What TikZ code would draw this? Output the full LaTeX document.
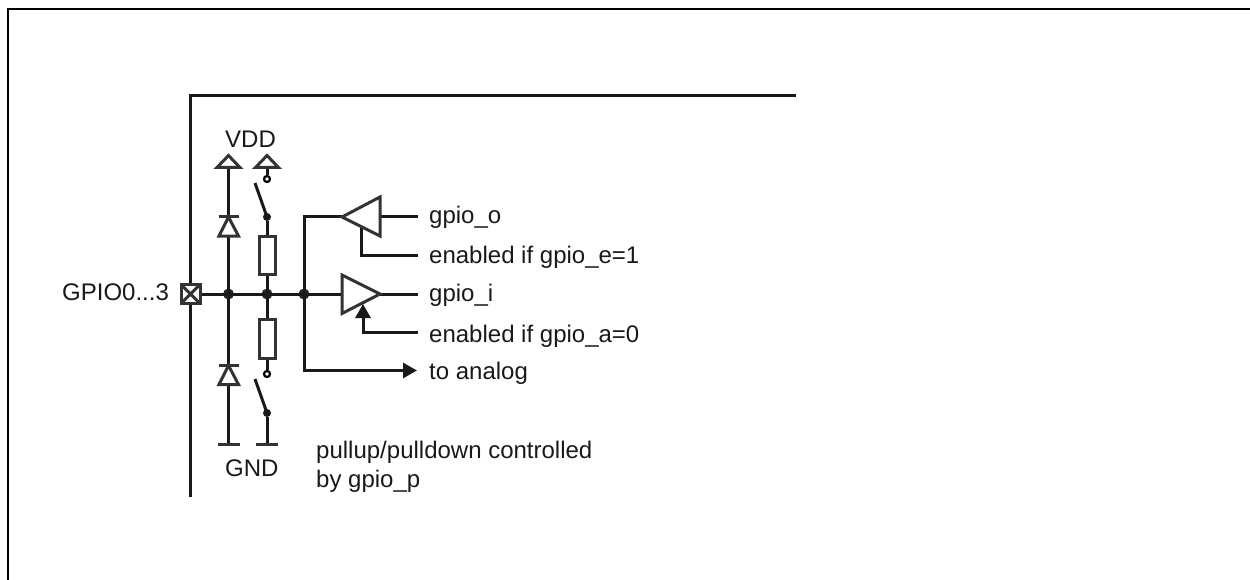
\documentclass[tikz,border=0pt]{standalone}
\usepackage{fontspec}
\setmainfont{Liberation Sans}
\usetikzlibrary{arrows.meta}
\tikzset{
  x=1pt,y=-1pt,
  wire/.style={line width=3pt,black!90,line cap=butt,line join=miter},
  sym/.style={line width=3pt,black!80,fill=white,line join=miter},
  dot/.style={circle,fill=black!85,inner sep=0pt,minimum size=11pt},
  sdot/.style={circle,fill=black!90,inner sep=0pt,minimum size=8pt},
  odot/.style={circle,draw=black,line width=2.2pt,fill=white,inner sep=0pt,minimum size=6pt},
  lbl/.style={font=\fontsize{24}{28}\selectfont,inner sep=0pt,anchor=base west,text=black!90},
  frameline/.style={line width=2.5pt,black},
  tip/.style={-{Triangle[length=14pt,width=15pt]}},
}
\begin{document}
\begin{tikzpicture}
\useasboundingbox (0,0) rectangle (1250,580);
% outer frame
\draw[frameline] (8,580) -- (8,9) -- (1250,9);
% chip border
\coordinate (ca) at (190.5,497);
\coordinate (cb) at (190.5,96);
\coordinate (cc) at (796,96);
\draw[wire] (ca) -- (cb) -- (cc);
% nodes on bus
\coordinate (pad) at (190.5,294);
\node[dot] (j1) at (228.5,294) {};
\node[dot] (j2) at (267,294) {};
\node[dot] (j3) at (304,294) {};
\coordinate (busend) at (342,294);
\draw[wire] (pad) -- (busend);
% supplies
\coordinate (v1) at (228.5,168);
\coordinate (v2) at (267,168);
\coordinate (g1) at (228.5,444);
\coordinate (g2) at (267,444);
% left column
\draw[wire] (v1) -- (j1.center) -- (g1);
% right column
\node[sdot] (st) at (267,217) {};
\node[sdot] (sb) at (267,413) {};
\node[odot] (ot) at (267,179) {};
\node[odot] (ob) at (267,374) {};
\draw[wire] (st) -- (j2.center) -- (ob);
\draw[wire] (sb) -- (g2);
\draw[wire] (v2) -- (ot);
\coordinate (swt) at (255,183);
\coordinate (swb) at (255,379);
\draw[wire] (st.center) -- (swt);
\draw[wire] (sb.center) -- (swb);
% resistors
\draw[sym] (259,236) rectangle (275.5,274);
\draw[sym] (259,319) rectangle (275.5,358);
% VDD tips
\draw[sym] (217,167.5) -- (228.5,155.5) -- (240,167.5) -- cycle;
\draw[sym] (255.5,167.5) -- (267,155.5) -- (278.5,167.5) -- cycle;
% GND bars
\draw[sym] (217.5,444) -- (240,444);
\draw[sym] (256,444) -- (278,444);
% diodes
\draw[sym] (219,236) -- (228.5,217) -- (238.5,236) -- cycle;
\draw[sym] (218.5,216.5) -- (239,216.5);
\draw[sym] (219,384.5) -- (228.5,365.5) -- (238.5,384.5) -- cycle;
\draw[sym] (218.5,365.5) -- (239,365.5);
% pad
\draw[sym] (181,284.5) rectangle (200,303.5);
\draw[sym] (181,284.5) -- (200,303.5) (181,303.5) -- (200,284.5);
% amps
\coordinate (oin) at (380,217);
\coordinate (oout) at (342,217);
\draw[wire] (304,294) -- (304,217) -- (oout);
\draw[wire] (oin) -- (418,217);
\draw[wire] (361.5,228) -- (361.5,255) -- (418,255);
\draw[sym] (342,217) -- (380,197) -- (380,236) -- cycle;
\draw[wire] (380,294) -- (418,294);
\draw[sym] (342,275) -- (380,294) -- (342,313.5) -- cycle;
\draw[wire,tip] (363,332) -- (363,304);
\draw[wire] (361.5,332) -- (418,332);
% to analog
\coordinate (an) at (417,370.5);
\draw[wire,tip] (j3.center) -- (304,370.5) -- (an);
% labels
\node[lbl] (t1) at (62,300) {GPIO0...3};
\node[lbl] (t2) at (225,148) {VDD};
\node[lbl] (t3) at (225,476) {GND};
\node[lbl] (t4) at (429,224) {gpio\_o};
\node[lbl] (t5) at (429,263) {enabled if gpio\_e=1};
\node[lbl] (t6) at (429,301) {gpio\_i};
\node[lbl] (t7) at (429,342) {enabled if gpio\_a=0};
\node[lbl] (t8) at (429,379) {to analog};
\node[lbl] (t9) at (316,458) {pullup/pulldown controlled};
\node[lbl] (t10) at (316,487) {by gpio\_p};
\end{tikzpicture}
\end{document}
